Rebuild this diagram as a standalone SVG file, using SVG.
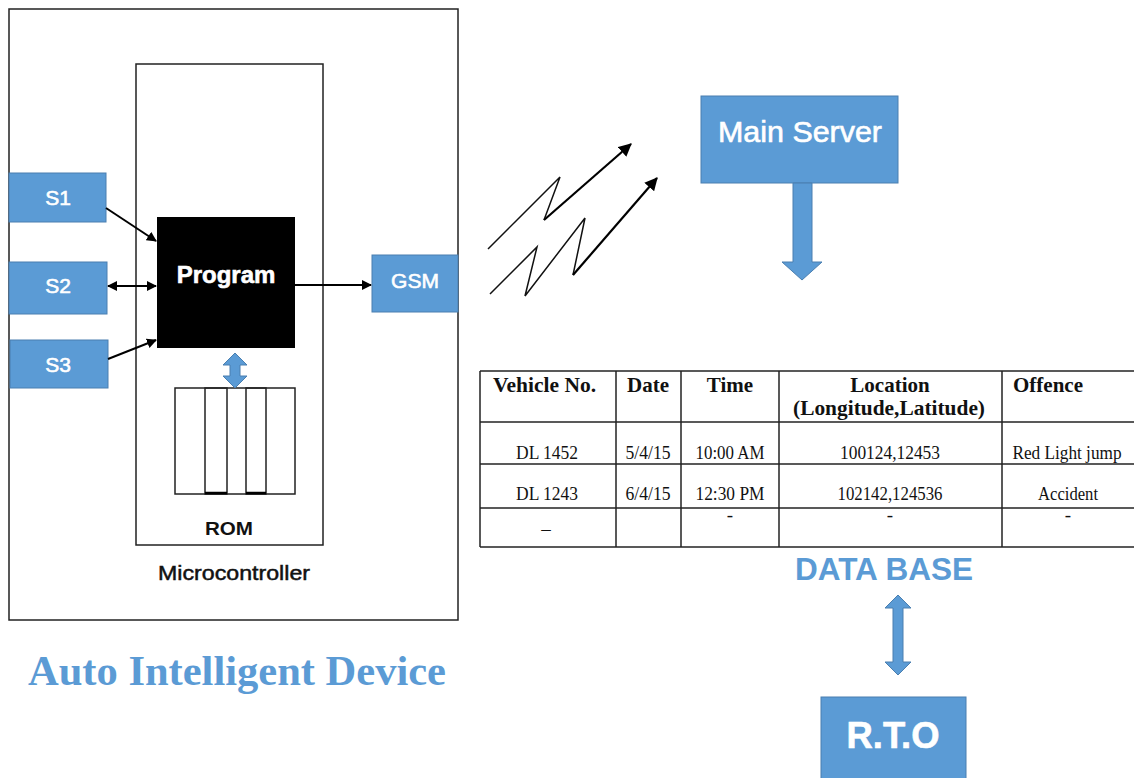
<svg xmlns="http://www.w3.org/2000/svg" width="1134" height="778" viewBox="0 0 1134 778">
<style>
.frame{fill:#fff;stroke:#222;stroke-width:1.5}
.blue{fill:#5b9bd5;stroke:#4a7fb0;stroke-width:1}
.wl{fill:#fff;font-family:"Liberation Sans",Arial,sans-serif;stroke:#fff;stroke-width:0.6}
.bl{fill:#111;font-family:"Liberation Sans",Arial,sans-serif}
.th{font-family:"Liberation Serif","Times New Roman",serif;font-weight:bold;font-size:21px;fill:#111}
.td{font-family:"Liberation Serif","Times New Roman",serif;font-size:19px;fill:#111}
.grid{stroke:#222;stroke-width:1.5;fill:none}
.con{stroke:#000;stroke-width:2;fill:none}
.zig{stroke:#111;stroke-width:1.5;fill:none;stroke-linejoin:miter}
</style>
<defs>
<marker id="ah" viewBox="0 0 10 10" refX="9" refY="5" markerWidth="10" markerHeight="10" markerUnits="userSpaceOnUse" orient="auto-start-reverse">
<path d="M0,0 L10,5 L0,10 z" fill="#000"/>
</marker>
<marker id="ahb" viewBox="0 0 12 12" refX="11" refY="6" markerWidth="13" markerHeight="13" markerUnits="userSpaceOnUse" orient="auto">
<path d="M0,0 L12,6 L0,12 z" fill="#000"/>
</marker>
</defs>
<rect width="1134" height="778" fill="#fff"/>

<g id="device">
<rect class="frame" x="9" y="9" width="449" height="611"/>
<text x="28" y="685" font-family="'Liberation Serif','Times New Roman',serif" font-weight="bold" font-size="42" fill="#5b9bd5" textLength="418" lengthAdjust="spacingAndGlyphs">Auto Intelligent Device</text>
</g>

<g id="microcontroller">
<rect class="frame" x="136" y="64" width="187" height="481"/>
<text class="bl" x="234" y="580" font-size="21" text-anchor="middle" textLength="152" lengthAdjust="spacingAndGlyphs" stroke="#111" stroke-width="0.5">Microcontroller</text>
</g>

<g id="s1">
<rect class="blue" x="9" y="173" width="97" height="49"/>
<text class="wl" x="58" y="205" font-size="21" text-anchor="middle">S1</text>
</g>
<g id="s2">
<rect class="blue" x="9" y="262" width="98" height="52"/>
<text class="wl" x="58" y="293" font-size="21" text-anchor="middle">S2</text>
</g>
<g id="s3">
<rect class="blue" x="10" y="340" width="98" height="48"/>
<text class="wl" x="58" y="372" font-size="21" text-anchor="middle">S3</text>
</g>

<g id="program">
<rect x="157" y="217" width="138" height="131" fill="#000"/>
<text class="wl" x="226" y="283" font-size="24" font-weight="bold" text-anchor="middle" stroke-width="0.3">Program</text>
</g>

<g id="gsm">
<rect class="blue" x="372" y="255" width="86" height="57"/>
<text class="wl" x="415" y="288" font-size="21" text-anchor="middle">GSM</text>
</g>

<g id="rom">
<rect x="175" y="388" width="120" height="106" fill="#fff" stroke="#222" stroke-width="1.5"/>
<rect x="205" y="388" width="22" height="106" fill="none" stroke="#222" stroke-width="1.5"/>
<rect x="246" y="388" width="20" height="106" fill="none" stroke="#222" stroke-width="1.5"/>
<line x1="205" y1="493" x2="227" y2="493" stroke="#000" stroke-width="2.5"/>
<line x1="246" y1="493" x2="266" y2="493" stroke="#000" stroke-width="2.5"/>
<text class="bl" x="229" y="535" font-size="19" font-weight="bold" text-anchor="middle" textLength="48" lengthAdjust="spacingAndGlyphs">ROM</text>
</g>

<g id="main-server">
<rect class="blue" x="701" y="96" width="197" height="87"/>
<text class="wl" x="800" y="142" font-size="29" text-anchor="middle" textLength="164" lengthAdjust="spacingAndGlyphs" stroke-width="0.9">Main Server</text>
</g>

<g id="database">
<line class="grid" x1="480" y1="371" x2="1134" y2="371"/>
<line class="grid" x1="480" y1="422" x2="1134" y2="422"/>
<line class="grid" x1="480" y1="464" x2="1134" y2="464"/>
<line class="grid" x1="480" y1="508" x2="1134" y2="508"/>
<line class="grid" x1="480" y1="547" x2="1134" y2="547"/>
<line class="grid" x1="480" y1="371" x2="480" y2="547"/>
<line class="grid" x1="616" y1="371" x2="616" y2="547"/>
<line class="grid" x1="681" y1="371" x2="681" y2="547"/>
<line class="grid" x1="779" y1="371" x2="779" y2="547"/>
<line class="grid" x1="1002" y1="371" x2="1002" y2="547"/>
<text class="th" x="493" y="392" textLength="103" lengthAdjust="spacingAndGlyphs">Vehicle No.</text>
<text class="th" x="627" y="392">Date</text>
<text class="th" x="730" y="392" text-anchor="middle">Time</text>
<text class="th" x="890" y="392" text-anchor="middle">Location</text>
<text class="th" x="889" y="415" text-anchor="middle" textLength="192" lengthAdjust="spacingAndGlyphs">(Longitude,Latitude)</text>
<text class="th" x="1013" y="392">Offence</text>
<text class="td" x="547" y="459" text-anchor="middle" textLength="62" lengthAdjust="spacingAndGlyphs">DL 1452</text>
<text class="td" x="648" y="459" text-anchor="middle" textLength="45" lengthAdjust="spacingAndGlyphs">5/4/15</text>
<text class="td" x="730" y="459" text-anchor="middle" textLength="69" lengthAdjust="spacingAndGlyphs">10:00 AM</text>
<text class="td" x="890" y="459" text-anchor="middle" textLength="100" lengthAdjust="spacingAndGlyphs">100124,12453</text>
<text class="td" x="1067" y="459" text-anchor="middle" textLength="109" lengthAdjust="spacingAndGlyphs">Red Light jump</text>
<text class="td" x="547" y="500" text-anchor="middle" textLength="62" lengthAdjust="spacingAndGlyphs">DL 1243</text>
<text class="td" x="648" y="500" text-anchor="middle" textLength="45" lengthAdjust="spacingAndGlyphs">6/4/15</text>
<text class="td" x="730" y="500" text-anchor="middle" textLength="69" lengthAdjust="spacingAndGlyphs">12:30 PM</text>
<text class="td" x="890" y="500" text-anchor="middle" textLength="105" lengthAdjust="spacingAndGlyphs">102142,124536</text>
<text class="td" x="1068" y="500" text-anchor="middle" textLength="60" lengthAdjust="spacingAndGlyphs">Accident</text>
<text class="td" x="546" y="535" text-anchor="middle">–</text>
<text class="td" x="730" y="521" text-anchor="middle">-</text>
<text class="td" x="890" y="521" text-anchor="middle">-</text>
<text class="td" x="1068" y="521" text-anchor="middle">-</text>
<text x="884" y="580" font-family="'Liberation Sans',Arial,sans-serif" font-weight="bold" font-size="32" fill="#5b9bd5" text-anchor="middle" textLength="178" lengthAdjust="spacingAndGlyphs">DATA BASE</text>
</g>

<g id="rto">
<rect class="blue" x="821" y="697" width="145" height="85"/>
<text class="wl" x="893" y="748" font-size="37" font-weight="bold" text-anchor="middle" textLength="93" lengthAdjust="spacingAndGlyphs" stroke-width="0.3">R.T.O</text>
</g>

<g id="connectors">
<line class="con" x1="106" y1="208" x2="156" y2="241" marker-end="url(#ah)"/>
<line class="con" x1="108" y1="286" x2="156" y2="286" marker-start="url(#ah)" marker-end="url(#ah)"/>
<line class="con" x1="108" y1="359" x2="156" y2="340" marker-end="url(#ah)"/>
<line class="con" x1="295" y1="285" x2="371" y2="285" marker-end="url(#ah)"/>
<polygon class="blue" points="235,353 247,365 240,365 240,376 247,376 235,388 223,376 230,376 230,365 223,365"/>
<polygon class="blue" points="793,183 812,183 812,262 822,262 802,280 782,262 793,262"/>
<polygon class="blue" points="898,595 911,608 903,608 903,662 911,662 898,675 885,662 893,662 893,608 885,608"/>
<polyline class="zig" points="488,249 560,177 544,220"/>
<line x1="544" y1="220" x2="631" y2="144" stroke="#000" stroke-width="2.2" marker-end="url(#ahb)"/>
<polyline class="zig" points="490,294 537,247 525,296 585,218 573,275"/>
<line x1="573" y1="275" x2="657" y2="178" stroke="#000" stroke-width="2.2" marker-end="url(#ahb)"/>
</g>
</svg>
